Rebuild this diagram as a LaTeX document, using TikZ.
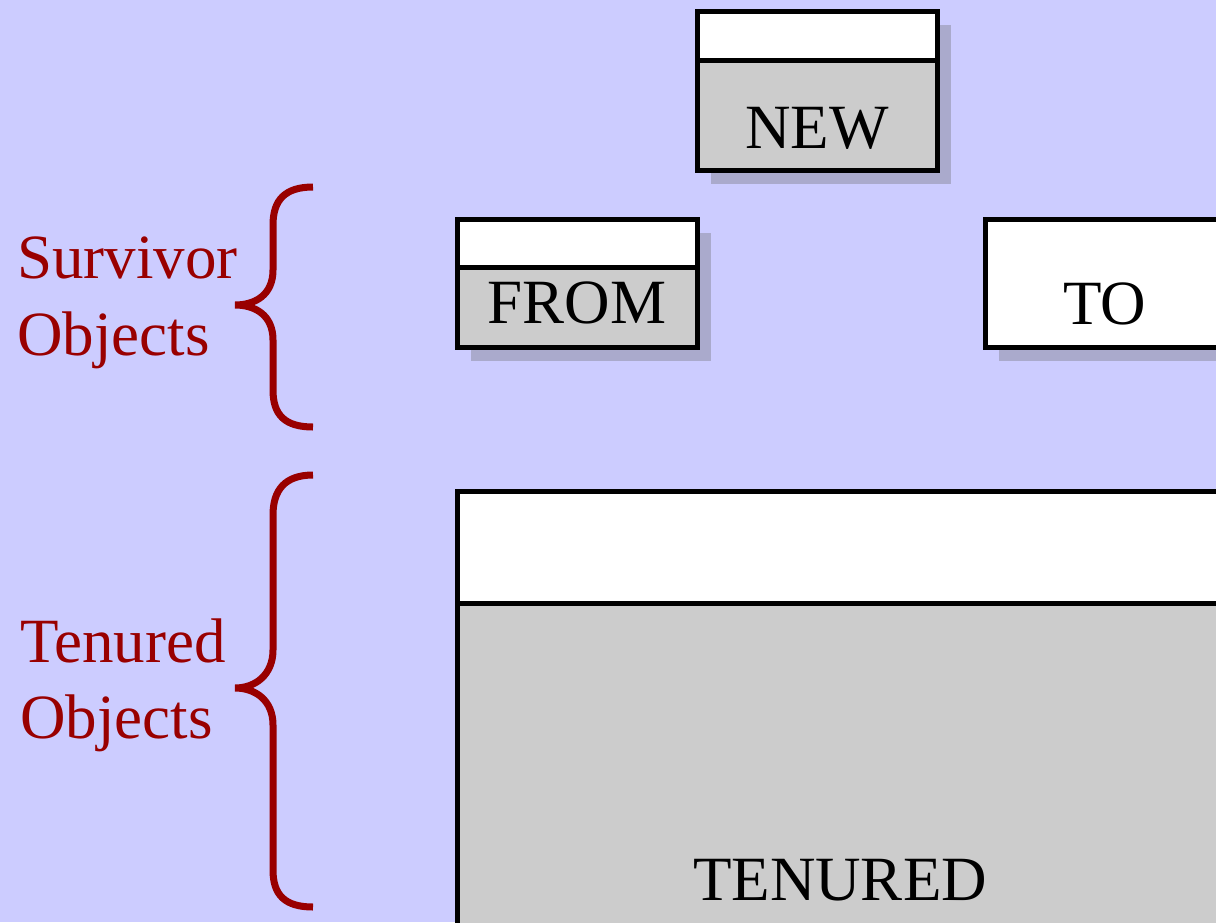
\documentclass[tikz,border=0pt]{standalone}
\usepackage{fontspec}
\setmainfont{Liberation Serif}
\definecolor{bg}{HTML}{CCCCFF}
\definecolor{shadowc}{HTML}{AAAACC}
\definecolor{gc}{HTML}{CCCCCC}
\definecolor{brc}{HTML}{990000}
\tikzset{
  membox/.style={draw=black, line width=5pt, rectangle, inner sep=0pt, outer sep=0pt},
  divider/.style={draw=black, line width=5pt},
  shade/.style={fill=shadowc},
  lbl/.style={font=\fontsize{63}{75}\selectfont, text=black, inner sep=0pt, anchor=base},
  side/.style={font=\fontsize{63}{75}\selectfont, text=brc, inner sep=0pt, anchor=base west},
  brace/.style={draw=brc, line width=7pt}
}
\begin{document}
\begin{tikzpicture}[x=1pt,y=-1pt]
\useasboundingbox (0,0) rectangle (1216,922);
\clip (0,0) rectangle (1216,922);
\fill[bg] (0,0) rectangle (1216,922);

% NEW
\fill[shade] (711,25) rectangle (951,184);
\fill[gc] (697,60) rectangle (937,170);
\fill[white] (697,11) rectangle (937,60);
\node[membox, minimum width=240pt, minimum height=159pt, anchor=north west] (new) at (697,11) {};
\draw[divider] (697,60) -- (937,60);
\node[lbl] (newt) at (817,148) {NEW};

% FROM
\fill[shade] (471,233) rectangle (711,361);
\fill[gc] (457,267) rectangle (697,347);
\fill[white] (457,219) rectangle (697,267);
\node[membox, minimum width=240pt, minimum height=128pt, anchor=north west] (from) at (457,219) {};
\draw[divider] (457,267) -- (697,267);
\node[lbl] (fromt) at (577,323) {FROM};

% TO
\fill[shade] (999,233) rectangle (1250,361);
\node[membox, fill=white, minimum width=260pt, minimum height=128pt, anchor=north west] (to) at (985,219) {};
\node[lbl] (tot) at (1105,324) {TO};

% TENURED
\fill[gc] (457,603) rectangle (1250,950);
\fill[white] (457,491) rectangle (1250,603);
\node[membox, minimum width=800pt, minimum height=460pt, anchor=north west] (ten) at (457,491) {};
\draw[divider] (457,603) -- (1250,603);
\node[lbl] (tent) at (840,900) {TENURED};

% Labels
\node[side] (surv1) at (17,278) {Survivor};
\node[side] (surv2) at (17,355) {Objects};
\node[side] (ten1) at (20,662) {Tenured};
\node[side] (ten2) at (20,738) {Objects};

% Braces
\draw[brace] (313,187) .. controls (285,187) and (273,200) .. (273,225) -- (273,270)
  .. controls (273,295) and (255,305) .. (235,305)
  .. controls (255,305) and (273,315) .. (273,340) -- (273,390)
  .. controls (273,415) and (285,427) .. (313,427);
\draw[brace] (313,475) .. controls (285,475) and (273,490) .. (273,515) -- (273,650)
  .. controls (273,675) and (255,688) .. (235,688)
  .. controls (255,688) and (273,700) .. (273,725) -- (273,870)
  .. controls (273,895) and (285,907) .. (313,907);
\end{tikzpicture}
\end{document}
